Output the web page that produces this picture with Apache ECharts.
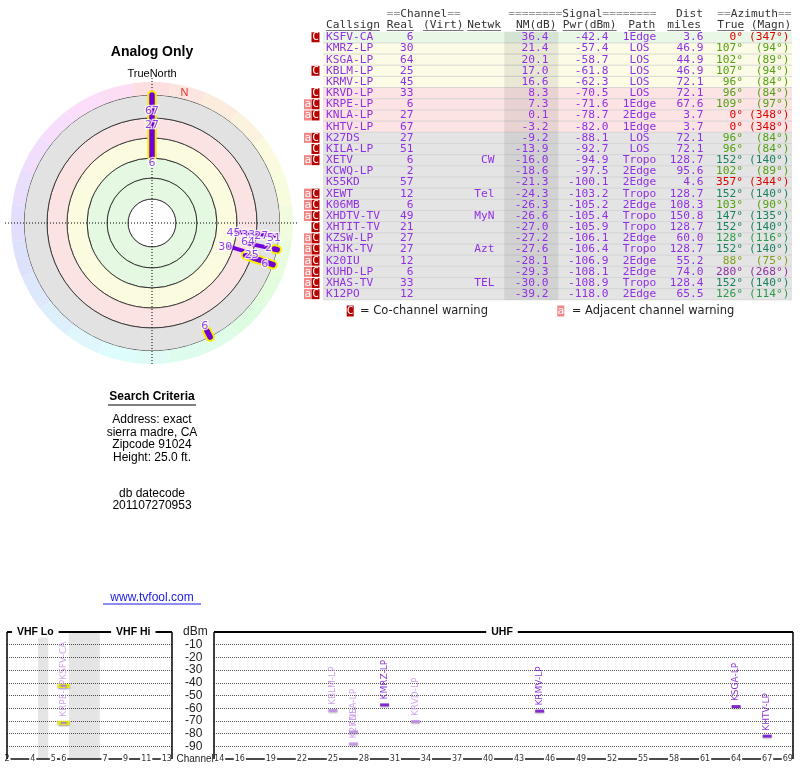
<!DOCTYPE html>
<html>
<head>
<meta charset="utf-8">
<script src="https://cdn.jsdelivr.net/npm/echarts@6/dist/echarts.min.js"></script>
<style>
  html, body { margin: 0; padding: 0; background: #fff; }
  #main { width: 800px; height: 768px; }
</style>
</head>
<body>
<div id="main"></div>
<script>
// station table
const callsigns = ['KSFV-CA', 'KMRZ-LP', 'KSGA-LP', 'KBLM-LP', 'KRMV-LP', 'KRVD-LP', 'KRPE-LP', 'KNLA-LP',
  'KHTV-LP', 'K27DS', 'KILA-LP', 'XETV', 'KCWQ-LP', 'K55KD', 'XEWT', 'K06MB', 'XHDTV-TV', 'XHTIT-TV',
  'KZSW-LP', 'XHJK-TV', 'K20IU', 'KUHD-LP', 'XHAS-TV', 'K12PO'];
const realCh = [6, 30, 64, 25, 45, 33, 6, 27, 67, 27, 51, 6, 2, 57, 12, 6, 49, 21, 27, 27, 12, 6, 33, 12];
const netwk = ['', '', '', '', '', '', '', '', '', '', '', 'CW', '', '', 'Tel', '', 'MyN', '', '', 'Azt', '', '', 'TEL', ''];
const nmDb = [36.4, 21.4, 20.1, 17.0, 16.6, 8.3, 7.3, 0.1, -3.2, -9.2, -13.9, -16.0, -18.6, -21.3, -24.3, -26.3,
  -26.6, -27.0, -27.2, -27.6, -28.1, -29.3, -30.0, -39.2];
const pwrDbm = [-42.4, -57.4, -58.7, -61.8, -62.3, -70.5, -71.6, -78.7, -82.0, -88.1, -92.7, -94.9, -97.5, -100.1,
  -103.2, -105.2, -105.4, -105.9, -106.1, -106.4, -106.9, -108.1, -108.9, -118.0];
const paths = ['1Edge', 'LOS', 'LOS', 'LOS', 'LOS', 'LOS', '1Edge', '2Edge', '1Edge', 'LOS', 'LOS', 'Tropo', '2Edge',
  '2Edge', 'Tropo', '2Edge', 'Tropo', 'Tropo', '2Edge', 'Tropo', '2Edge', '2Edge', 'Tropo', '2Edge'];
const distMiles = [3.6, 46.9, 44.9, 46.9, 72.1, 72.1, 67.6, 3.7, 3.7, 72.1, 72.1, 128.7, 95.6, 4.6, 128.7, 108.3,
  150.8, 128.7, 60.0, 128.7, 55.2, 74.0, 128.4, 65.5];
const azTrue = [0, 107, 102, 107, 96, 96, 109, 0, 0, 96, 96, 152, 102, 357, 152, 103, 147, 152, 128, 152, 88, 280, 152, 126];
const azMagn = [347, 94, 89, 94, 84, 84, 97, 348, 348, 84, 84, 140, 89, 344, 140, 90, 135, 140, 116, 140, 75, 268, 140, 114];
const warnAdj = [0, 0, 0, 0, 0, 0, 1, 1, 0, 1, 0, 1, 0, 0, 1, 1, 1, 0, 1, 1, 1, 1, 1, 1];
const warnCo = [1, 0, 0, 1, 0, 1, 1, 1, 0, 1, 1, 1, 0, 0, 1, 1, 1, 1, 1, 1, 1, 1, 1, 1];

// polar plot marks (azimuth deg, radius in plot units = px from centre)
const segAz = [0, 96, 102, 102, 107, 109, 153];
const segR0 = [66, 84, 98, 125, 80, 99, 121];
const segR1 = [128, 123, 119, 128, 99, 128, 128];
const segVhfLo = [1, 0, 0, 1, 0, 1, 1];
const lblText = ['67', '27', '6', '45', '33', '27', '51', '64', '2', '30', '25', '6', '6'];
const lblAz = [0, 0, 0, 97, 97, 97, 97, 101.5, 102, 108, 108, 110, 153];
const lblR = [112, 98, 60, 82, 97, 110, 123, 98, 119, 77, 105, 120, 116];
const ringEdges = [24, 45, 65, 85, 105, 128];
const ringColors = ['#ffffff', '#e4f8e2', '#e4f8e2', '#fbfbe0', '#fbe3e3', '#e2e2e2'];

// spectrum axes
const vhfSlot = { 2: 0, 3: 1, 4: 2, 5: 4, 6: 5, 7: 9, 8: 10, 9: 11, 10: 12, 11: 13, 12: 14, 13: 15 };
const vhfTickPos = [-0.5, 2, 4, 5, 9, 11, 13, 15];
const vhfTickText = ['2', '4', '5', '6', '7', '9', '11', '13'];
const uhfTicks = [14, 16, 19, 22, 25, 28, 31, 34, 37, 40, 43, 46, 49, 52, 55, 58, 61, 64, 67, 69];
const dbmTicks = [-10, -20, -30, -40, -50, -60, -70, -80, -90];

const criteria = ['Address: exact', 'sierra madre, CA', 'Zipcode 91024', 'Height: 25.0 ft.'];

const mono = '11.2px "DejaVu Sans Mono", monospace';
const sans = '"Liberation Sans", Arial, sans-serif';
const purple = '#9030e4';

function azColor(a) {
  if (a <= 20 || a >= 340) return '#e00000';
  if (a < 94) return '#7fa01c';
  if (a < 115) return '#54a012';
  if (a < 138) return '#2a9a48';
  if (a < 200) return '#1a8060';
  return '#9030a0';
}
function rowColor(nm) {
  if (nm >= 25) return '#e8f7e6';
  if (nm >= 15) return '#fcfce6';
  if (nm >= -5) return '#fde4e4';
  return '#e4e4e4';
}

const g = [];
function txt(x, y, text, fill, font, align, z) {
  g.push({
    type: 'text', z: z || 50, silent: true,
    style: { x, y, text, fill, font, textAlign: align || 'left', align: align || 'left',
      textVerticalAlign: 'middle', verticalAlign: 'middle' }
  });
}
function line(x1, y1, x2, y2, stroke, w, dash, z) {
  g.push({
    type: 'line', z: z || 40, silent: true,
    shape: { x1, y1, x2, y2 },
    style: { stroke, lineWidth: w, lineDash: dash || null }
  });
}
function rect(x, y, w, h, fill, z) {
  g.push({ type: 'rect', z: z || 20, silent: true, shape: { x, y, width: w, height: h }, style: { fill } });
}

// ---- left column texts
txt(152, 52, 'Analog Only', '#000', 'bold 14px ' + sans, 'center');
txt(152, 74, 'TrueNorth', '#000', '11px ' + sans, 'center');
line(5, 223, 297, 223, '#000', 1, [1, 2], 4);
line(152, 78, 152, 366, '#000', 1, [1, 2], 4);
txt(152, 397, 'Search Criteria', '#000', 'bold 12px ' + sans, 'center');
line(108, 405, 196, 405, '#000', 1);
criteria.forEach((s, i) => txt(152, 420 + i * 12.4, s, '#000', '12px ' + sans, 'center'));
txt(152, 494, 'db datecode', '#000', '12px ' + sans, 'center');
txt(152, 506, '201107270953', '#000', '12px ' + sans, 'center');
txt(152, 598, 'www.tvfool.com', '#1a1ae6', '12px ' + sans, 'center');
line(103, 604, 201, 604, '#1a1ae6', 1);

// ---- table
const rowTop = 31.7, rowH = 11.17;
callsigns.forEach((c, i) => {
  const top = rowTop + i * rowH, y = top + rowH / 2;
  rect(323, top, 469, rowH, rowColor(nmDb[i]), 10);
  line(323, top + rowH, 792, top + rowH, '#cfcfcf', 0.8, null, 11);
  if (warnCo[i]) {
    rect(311.5, top + 0.6, 8, rowH - 1.2, '#b80000', 12);
    txt(315.5, y, 'C', '#fff', mono, 'center', 13);
  }
  if (warnAdj[i]) {
    rect(304, top + 0.6, 7.5, rowH - 1.2, '#f08585', 12);
    txt(307.8, y, 'a', '#fff', mono, 'center', 13);
  }
  txt(326, y, c, purple, mono, 'left');
  txt(413.5, y, String(realCh[i]), purple, mono, 'right');
  txt(494.5, y, netwk[i], purple, mono, 'right');
  txt(548.5, y, nmDb[i].toFixed(1), purple, mono, 'right');
  txt(608.5, y, pwrDbm[i].toFixed(1), purple, mono, 'right');
  txt(639.5, y, paths[i], purple, mono, 'center');
  txt(703.5, y, distMiles[i].toFixed(1), purple, mono, 'right');
  txt(743, y, azTrue[i] + '°', azColor(azTrue[i]), mono, 'right');
  txt(789.5, y, '(' + azMagn[i] + '°)', azColor(azTrue[i]), mono, 'right');
});
g.push({ type: 'rect', z: 11, silent: true,
  shape: { x: 504.3, y: rowTop, width: 54, height: rowH * callsigns.length },
  style: { fill: 'rgba(0,0,0,0.08)' } });

// header
const hdr1 = [[386.7, '==', 'Channel', '=='], [508.3, '========', 'Signal', '========'], [676, '', 'Dist', ''], [717.3, '==', 'Azimuth', '==']];
hdr1.forEach(h => {
  g.push({ type: 'text', z: 50, silent: true,
    style: { x: h[0], y: 14, text: '{e|' + h[1] + '}{w|' + h[2] + '}{e|' + h[3] + '}', font: mono,
      textVerticalAlign: 'middle', verticalAlign: 'middle',
      rich: { e: { fill: '#9a9a9a', color: '#9a9a9a', font: mono }, w: { fill: '#333', color: '#333', font: mono } } } });
});
const hdr2 = [[326, 'Callsign'], [386.7, 'Real'], [423, '(Virt)'], [467.3, 'Netwk'], [516, 'NM(dB)'],
  [562.7, 'Pwr(dBm)'], [628.3, 'Path'], [667.3, 'miles'], [717.3, 'True'], [750.7, '(Magn)']];
hdr2.forEach(h => {
  txt(h[0], 25, h[1], '#333', mono, 'left');
  line(h[0], 30.5, h[0] + h[1].length * 6.74, 30.5, '#555', 0.8);
});
// legend
rect(346.7, 305.5, 7, 11, '#b80000');
txt(350.2, 311, 'C', '#fff', mono, 'center');
txt(360, 311, '= Co-channel warning', '#222', '11.5px "DejaVu Sans", sans-serif', 'left');
rect(557.3, 305.5, 7, 11, '#f08585');
txt(560.8, 311, 'a', '#fff', mono, 'center');
txt(571.7, 311, '= Adjacent channel warning', '#222', '11.5px "DejaVu Sans", sans-serif', 'left');

// ---- spectrum frame
line(7, 632, 172, 632, '#000', 2, null, 40);
line(7, 632, 7, 759, '#000', 1.5, null, 40);
line(172, 632, 172, 759, '#000', 1.5, null, 40);
line(214, 632, 793, 632, '#000', 2, null, 40);
line(214, 632, 214, 759, '#000', 1.5, null, 40);
line(793, 632, 793, 759, '#000', 1.5, null, 40);
[[35.3, 'VHF Lo'], [133.3, 'VHF Hi'], [502, 'UHF']].forEach(t => {
  g.push({ type: 'text', z: 60, silent: true,
    style: { x: t[0], y: 632, text: t[1], font: 'bold 10.5px ' + sans, fill: '#000', backgroundColor: '#fff',
      padding: [0, 5], textAlign: 'center', align: 'center', textVerticalAlign: 'middle', verticalAlign: 'middle' } });
});
txt(183, 632, 'dBm', '#222', '12px ' + sans, 'left');
txt(176.5, 759, 'Channel', '#222', '10px ' + sans, 'left');

// ---- spectrum points from the table rows
function specItem(i, x) {
  const warned = warnCo[i] || warnAdj[i];
  const col = warned ? '#c08be8' : '#7000cc';
  const lo = realCh[i] <= 6;
  return {
    name: callsigns[i], value: [x, pwrDbm[i]],
    itemStyle: { color: col, borderColor: lo ? '#f0f000' : col, borderWidth: lo ? 2 : 0,
      shadowColor: 'rgba(0,0,0,0.35)', shadowBlur: 2, shadowOffsetY: 1 },
    label: { color: col }
  };
}
const vhfData = [], uhfData = [];
callsigns.forEach((c, i) => {
  if (pwrDbm[i] < -90) return;
  if (realCh[i] <= 13) vhfData.push(specItem(i, vhfSlot[realCh[i]]));
  else uhfData.push(specItem(i, realCh[i]));
});
const specLabel = { show: true, formatter: '{b}', rotate: 90, position: 'top', distance: 4, align: 'left',
  verticalAlign: 'middle', fontSize: 9, fontFamily: '"DejaVu Sans", sans-serif' };
const xLabelStyle = { fontSize: 8, color: '#333', backgroundColor: '#fff', padding: [0, 1], margin: -4.5,
  fontFamily: '"DejaVu Sans", sans-serif' };

// hue ring around the compass
const hueCats = [];
for (let k = 0; k < 24; k++) hueCats.push('s' + k);

const option = {
  animation: false,
  graphic: { elements: g },
  polar: [
    { center: [152, 223], radius: [0, 128] },
    { center: [152, 223], radius: [128, 141] },
    { center: [152, 223], radius: [0, 141] }
  ],
  angleAxis: [
    { polarIndex: 0, type: 'category', data: ['all'], startAngle: 90, show: false },
    { polarIndex: 1, type: 'category', data: hueCats, startAngle: 97.5, show: false },
    { polarIndex: 2, type: 'value', min: 0, max: 360, startAngle: 90, clockwise: true, show: false }
  ],
  radiusAxis: [
    { polarIndex: 0, type: 'value', min: 0, max: 128, show: false },
    { polarIndex: 1, type: 'value', min: 0, max: 1, show: false },
    { polarIndex: 2, type: 'value', min: 0, max: 141, show: false }
  ],
  grid: [
    { left: 7, top: 632, width: 165, height: 127 },
    { left: 214, top: 632, width: 579, height: 127 }
  ],
  xAxis: [
    { gridIndex: 0, type: 'value', min: -0.5, max: 15.5, interval: 0.5, z: 8,
      axisLine: { onZero: false, lineStyle: { color: '#111', width: 1.5 } }, axisTick: { show: false }, splitLine: { show: false },
      axisLabel: Object.assign({ formatter: v => { const k = vhfTickPos.indexOf(v); return k < 0 ? '' : vhfTickText[k]; } }, xLabelStyle) },
    { gridIndex: 1, type: 'value', min: 13.5, max: 69.5, interval: 0.5, z: 8,
      axisLine: { onZero: false, lineStyle: { color: '#111', width: 1.5 } }, axisTick: { show: false }, splitLine: { show: false },
      axisLabel: Object.assign({ formatter: v => uhfTicks.indexOf(v) < 0 ? '' : String(v) }, xLabelStyle) }
  ],
  yAxis: [
    { gridIndex: 0, type: 'value', min: -100, max: 0, interval: 10, position: 'right',
      axisLine: { show: false, onZero: false }, axisTick: { show: false },
      splitLine: { showMinLine: false, showMaxLine: false, lineStyle: { type: 'dotted', color: '#555', width: 1 } },
      axisLabel: { margin: 13, align: 'left', fontSize: 12, color: '#222', fontFamily: sans,
        formatter: v => dbmTicks.indexOf(v) < 0 ? '' : String(v) } },
    { gridIndex: 1, type: 'value', min: -100, max: 0, interval: 10,
      axisLine: { show: false, onZero: false }, axisTick: { show: false }, axisLabel: { show: false },
      splitLine: { showMinLine: false, showMaxLine: false, lineStyle: { type: 'dotted', color: '#555', width: 1 } } }
  ],
  series: [
    ...ringEdges.map((e, k) => ({
      type: 'bar', coordinateSystem: 'polar', polarIndex: 0, stack: 'rings', z: 1, silent: true,
      barCategoryGap: '0%', data: [e - (k ? ringEdges[k - 1] : 0)],
      itemStyle: { color: ringColors[k], borderColor: '#222', borderWidth: 0.8 }
    })),
    {
      type: 'bar', coordinateSystem: 'polar', polarIndex: 1, z: 1, silent: true, barCategoryGap: '0%',
      data: hueCats.map((c, k) => ({ value: 1, itemStyle: { color: 'hsl(' + Math.round(k * 15 * 0.92) + ',85%,93%)' } }))
    },
    {
      type: 'custom', coordinateSystem: 'polar', polarIndex: 2, z: 5, silent: true,
      data: segAz.map((a, i) => [segR0[i], a, segR1[i], segVhfLo[i]]),
      encode: { radius: 0, angle: 1 },
      renderItem: (params, api) => {
        const a = api.value(1);
        const p0 = api.coord([api.value(0), a]);
        const p1 = api.coord([api.value(2), a]);
        const shape = { x1: p0[0], y1: p0[1], x2: p1[0], y2: p1[1] };
        const kids = [];
        if (api.value(3)) kids.push({ type: 'line', shape, style: { stroke: '#f2ee00', lineWidth: 9.5, lineCap: 'round' } });
        kids.push({ type: 'line', shape, style: { stroke: '#7200d6', lineWidth: api.value(3) ? 5.5 : 4, lineCap: 'round' } });
        return { type: 'group', children: kids };
      }
    },
    {
      type: 'scatter', coordinateSystem: 'polar', polarIndex: 2, z: 6, silent: true, symbolSize: 1,
      itemStyle: { color: 'rgba(0,0,0,0)' },
      data: lblText.map((t, i) => ({ name: t, value: [lblR[i], lblAz[i]] })),
      label: { show: true, position: 'inside', formatter: '{b}', color: '#7a14e0', fontSize: 11,
        fontFamily: '"DejaVu Sans", sans-serif', textBorderColor: '#fff', textBorderWidth: 2.5 }
    },
    {
      type: 'scatter', coordinateSystem: 'polar', polarIndex: 2, z: 6, silent: true, symbolSize: 1,
      itemStyle: { color: 'rgba(0,0,0,0)' },
      data: [{ name: 'N', value: [134, 14] }],
      label: { show: true, position: 'inside', formatter: '{b}', color: '#e00000', fontSize: 11, fontFamily: sans }
    },
    {
      type: 'scatter', xAxisIndex: 0, yAxisIndex: 0, z: 5, symbol: 'rect', symbolSize: [9, 3],
      data: vhfData, label: specLabel,
      markArea: { silent: true, itemStyle: { color: 'rgba(0,0,0,0.1)' },
        data: [[{ xAxis: 2.5 }, { xAxis: 3.5 }], [{ xAxis: 5.5 }, { xAxis: 8.5 }]] }
    },
    {
      type: 'scatter', xAxisIndex: 1, yAxisIndex: 1, z: 5, symbol: 'rect', symbolSize: [9, 3],
      data: uhfData, label: specLabel
    }
  ]
};

const chart = echarts.init(document.getElementById('main'));
chart.setOption(option);
</script>
</body>
</html>
